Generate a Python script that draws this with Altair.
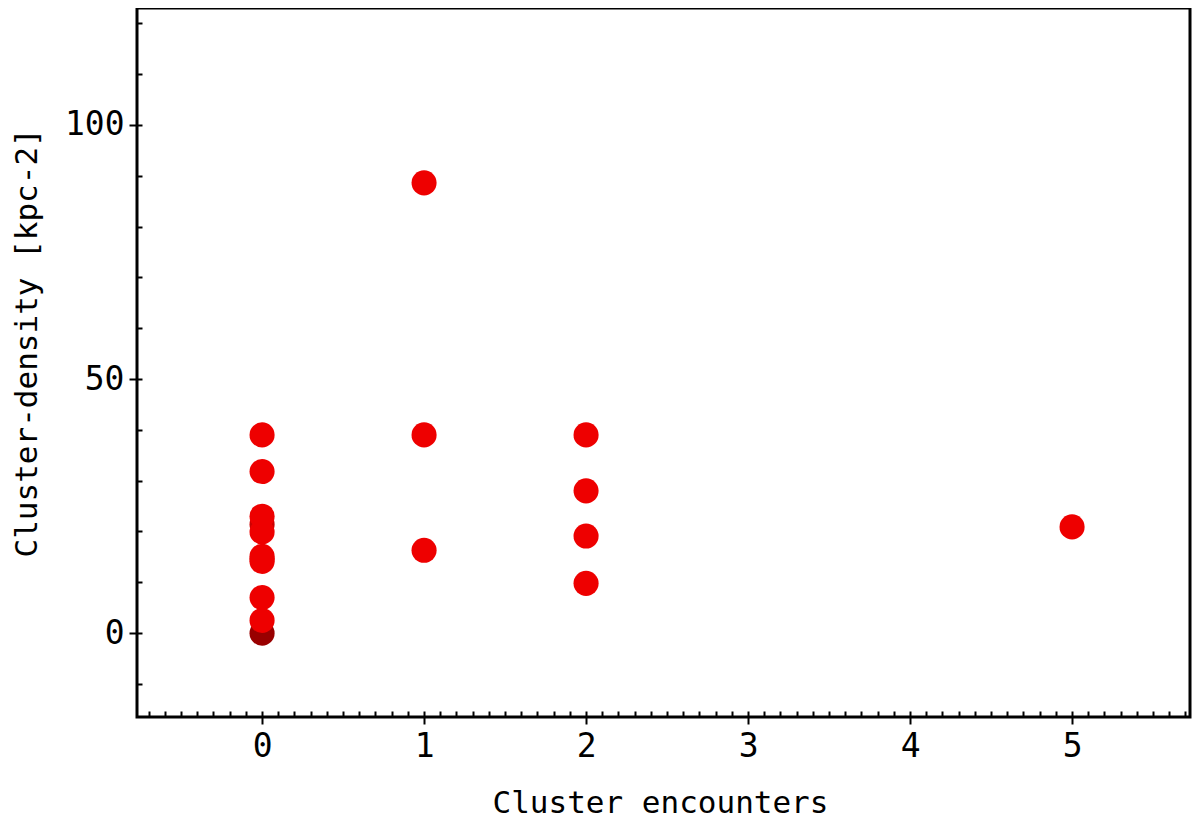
import altair as alt
import pandas as pd

# Data
encounters = [0, 0, 0, 0, 0, 0, 0, 0, 0, 0, 0,
              1, 1, 1,
              2, 2, 2, 2,
              5]
density = [39.0, 31.8, 23.0, 21.4, 19.9, 15.1, 14.6, 14.1, 7.0, 2.5, 0.0,
           88.6, 39.0, 16.3,
           39.0, 28.0, 19.1, 9.8,
           20.9]
multiplicity = [1, 1, 1, 2, 1, 1, 2, 1, 1, 1, 3,
                1, 1, 1,
                1, 1, 1, 1,
                1]

x_major = [0, 1, 2, 3, 4, 5]
y_major = [0, 50, 100]
x_minor = [round(-0.7 + 0.1 * i, 1) for i in range(65)]
y_minor = [-10 + 10 * i for i in range(14)]

df = pd.DataFrame({"enc": encounters, "dens": density, "n": multiplicity})

W, H = 1053, 709
FONT = "DejaVu Sans Mono"
xscale = alt.Scale(domain=[-0.772, 5.728], nice=False, zero=False)
yscale = alt.Scale(domain=[-16.5, 123.0], nice=False, zero=False)

points = alt.Chart(df).mark_point(
    filled=True, shape="circle", size=630, opacity=1, strokeWidth=0
).encode(
    x=alt.X("enc:Q", scale=xscale, axis=alt.Axis(
        orient="bottom", values=x_major, format="d", tickSize=7, tickWidth=2,
        tickColor="black", domain=False, grid=False,
        labelFont=FONT, labelFontSize=33, labelColor="black", labelPadding=6,
        title="Cluster encounters", titleFont=FONT, titleFontSize=31,
        titleFontWeight="normal", titleColor="black", titleX=355, titleY=95,
        titleAlign="left", titleBaseline="alphabetic")),
    y=alt.Y("dens:Q", scale=yscale, axis=alt.Axis(
        orient="left", values=y_major, format="d", tickSize=8, tickWidth=2,
        tickColor="black", domain=False, grid=False,
        labelFont=FONT, labelFontSize=33, labelColor="black", labelPadding=5,
        title="Cluster-density [kpc-2]", titleFont=FONT, titleFontSize=31,
        titleFontWeight="normal", titleColor="black", titleAngle=270,
        titleX=-101, titleY=549, titleAlign="left", titleBaseline="alphabetic")),
    color=alt.Color("n:O", scale=alt.Scale(domain=[1, 2, 3],
                                           range=["#ee0000", "#cc0000", "#990000"]),
                    legend=None),
    order=alt.Order("n:Q", sort="descending"),
)

inner = alt.Chart(df).mark_point(opacity=0).encode(
    x=alt.X("enc:Q", scale=xscale, axis=alt.Axis(
        orient="top", offset=-H, values=x_minor, labels=False, tickSize=6,
        tickWidth=2, tickColor="black", domain=False, grid=False, title=None)),
    y=alt.Y("dens:Q", scale=yscale, axis=alt.Axis(
        orient="right", offset=-W, values=y_minor, labels=False, tickSize=5,
        tickWidth=2, tickColor="black", domain=False, grid=False, title=None)),
)

chart = alt.layer(inner, points).resolve_scale(
    x="independent", y="independent"
).properties(
    width=W, height=H,
    autosize=alt.AutoSizeParams(type="none"),
    padding={"left": 129, "top": 0, "right": 2, "bottom": 100},
    background="white",
).configure_view(stroke="black", strokeWidth=3)

chart.save("out.html", embed_options={"renderer": "svg", "actions": False})
